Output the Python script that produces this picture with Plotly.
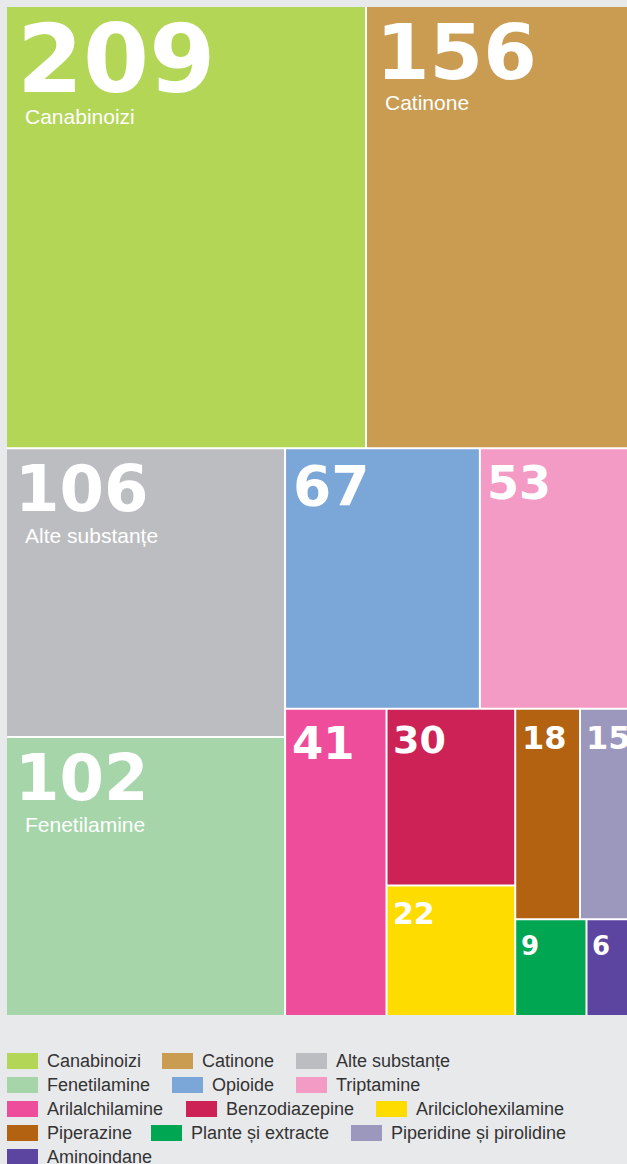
import plotly.graph_objects as go

# Substance groups and number of substances in each
categories = [
    "Canabinoizi", "Catinone", "Alte substanțe", "Fenetilamine", "Opioide",
    "Triptamine", "Arilalchilamine", "Benzodiazepine", "Arilciclohexilamine",
    "Piperazine", "Plante și extracte", "Piperidine și pirolidine", "Aminoindane",
]
counts = [209, 156, 106, 102, 67, 53, 41, 30, 22, 18, 9, 15, 6]

colors = [
    "#b3d656", "#c99c52", "#bcbdc0", "#a6d5aa", "#7ba6d8", "#f39bc4",
    "#ee4d9c", "#cc2255", "#ffdc00", "#b36212", "#00a651", "#9b97bd", "#5b45a0",
]

# font size of the big number inside each tile
number_sizes = [95, 77, 64, 64, 55, 46, 45, 38, 30, 32, 26, 32, 26]
# tiles that also show the group name under the number
named_tiles = 4

# nesting of tiles: "v" stacks groups top to bottom, "h" puts them side by side
TILING = ("v", [
    ("h", [0, 1]),
    ("h", [
        ("v", [2, 3]),
        ("v", [
            ("h", [4, 5]),
            ("h", [6, ("v", [7, 8]), ("v", [("h", [9, 11]), ("h", [10, 12])])]),
        ]),
    ]),
])

# legend rows: (category index, swatch left edge)
legend_rows = [
    [(0, 7), (1, 162), (2, 296)],
    [(3, 7), (4, 172), (5, 296)],
    [(6, 7), (7, 186), (8, 376)],
    [(9, 7), (10, 151), (11, 351)],
    [(12, 7)],
]

W, H = 627, 1164
BG = "#e8e9eb"
AREA = (7, 7, 634, 1015)
GAP = 1.0


def total(node):
    if isinstance(node, int):
        return counts[node]
    return sum(total(k) for k in node[1])


def place(node, x0, y0, x1, y1, out):
    if isinstance(node, int):
        out[node] = (x0, y0, x1, y1)
        return
    direction, kids = node
    s = total(node)
    acc = 0
    for k in kids:
        v = total(k)
        if direction == "h":
            a = x0 + (x1 - x0) * acc / s
            b = x0 + (x1 - x0) * (acc + v) / s
            place(k, a, y0, b, y1, out)
        else:
            a = y0 + (y1 - y0) * acc / s
            b = y0 + (y1 - y0) * (acc + v) / s
            place(k, x0, a, x1, b, out)
        acc += v


rects = {}
place(TILING, *AREA, rects)

fig = go.Figure()
shapes = []
annotations = []

# white backing so seams between tiles show white
shapes.append(dict(type="rect", xref="x", yref="y", x0=AREA[0], y0=AREA[1],
                   x1=AREA[2], y1=AREA[3], fillcolor="white", line=dict(width=0),
                   layer="above"))

for i, (x0, y0, x1, y1) in sorted(rects.items()):
    # leave a thin white seam between neighbouring tiles
    ix0 = x0 + (GAP if x0 > AREA[0] + 0.5 else 0)
    iy0 = y0 + (GAP if y0 > AREA[1] + 0.5 else 0)
    ix1 = x1 - (GAP if x1 < AREA[2] - 0.5 else 0)
    iy1 = y1 - (GAP if y1 < AREA[3] - 0.5 else 0)
    shapes.append(dict(type="rect", xref="x", yref="y", x0=ix0, y0=iy0, x1=ix1, y1=iy1,
                       fillcolor=colors[i], line=dict(width=0), layer="above"))
    s = number_sizes[i]
    digit_top = iy0 + 15
    annotations.append(dict(
        x=ix0 + 2 + 0.075 * s, y=digit_top - 0.2 * s, xref="x", yref="y",
        xanchor="left", yanchor="top", showarrow=False, borderpad=0,
        text=f"<b>{counts[i]}</b>",
        font=dict(family="DejaVu Sans", size=s, color="white"),
    ))
    if i < named_tiles:
        cap_top = digit_top + 0.745 * s + 15
        annotations.append(dict(
            x=ix0 + 17, y=cap_top - 0.19 * 21, xref="x", yref="y",
            xanchor="left", yanchor="top", showarrow=False, borderpad=0,
            text=categories[i],
            font=dict(family="Liberation Sans", size=21, color="white"),
        ))

# legend drawn as swatches with labels below the treemap
for r, row in enumerate(legend_rows):
    cy = 1061 + 24 * r
    for idx, sx in row:
        shapes.append(dict(type="rect", xref="x", yref="y", x0=sx, x1=sx + 31,
                           y0=cy - 8, y1=cy + 8, fillcolor=colors[idx],
                           line=dict(width=0), layer="above"))
        annotations.append(dict(
            x=sx + 39, y=cy, xref="x", yref="y", xanchor="left", yanchor="middle",
            showarrow=False, borderpad=0, text=categories[idx],
            font=dict(family="Liberation Sans", size=18, color="#333333"),
        ))

fig.add_trace(go.Scatter(x=[0, W], y=[0, H], mode="markers",
                         marker=dict(opacity=0), hoverinfo="skip", showlegend=False))

fig.update_layout(
    width=W, height=H,
    margin=dict(l=0, r=0, t=0, b=0),
    paper_bgcolor=BG, plot_bgcolor=BG,
    xaxis=dict(range=[0, W], visible=False, fixedrange=True),
    yaxis=dict(range=[H, 0], visible=False, fixedrange=True),
    shapes=shapes, annotations=annotations,
    showlegend=False,
)

fig.write_html("out.html")
